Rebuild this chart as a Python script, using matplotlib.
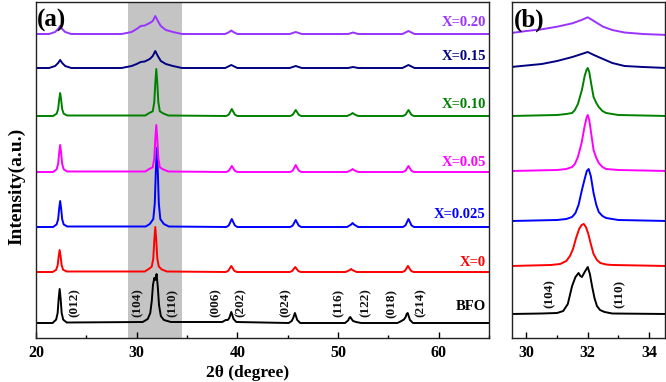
import matplotlib
matplotlib.use('Agg')
import matplotlib.pyplot as plt
from matplotlib.ticker import MultipleLocator

plt.rcParams['font.family'] = ['Liberation Serif', 'DejaVu Serif']

# ---------------- data ----------------
samples = ['BFO', 'X=0', 'X=0.025', 'X=0.05', 'X=0.10', 'X=0.15', 'X=0.20']
colors = ['#000000', '#ff0000', '#0000ff', '#ff00ff', '#008000', '#000080', '#9933ff']

# panel (a): (2theta, relative intensity)
bfo_a = [(20, 0), (21.65, 0), (22.0, 3.4), (22.15, 10), (22.25, 24), (22.35, 34), (22.45, 24), (22.55, 10),
         (22.7, 3.4), (23.05, 0.5),
         (30.6, 1), (31.1, 4), (31.35, 10), (31.5, 22), (31.62, 38), (31.75, 45), (31.85, 43), (31.98, 49),
         (32.1, 36), (32.22, 18), (32.4, 7), (32.7, 3), (33.4, 1),
         (38.5, 1), (38.85, 3), (39.05, 3), (39.2, 5), (39.3, 8), (39.4, 11), (39.5, 8), (39.62, 4), (39.9, 1),
         (45.1, 0), (45.4, 2), (45.55, 5), (45.65, 8), (45.72, 10), (45.82, 7), (45.95, 3), (46.25, 0),
         (50.7, 0), (51.0, 2.5), (51.12, 5), (51.22, 6), (51.35, 4), (51.5, 2), (51.8, 1), (52.3, 0),
         (55.9, 0), (56.3, 2), (56.55, 3.5), (56.72, 6), (56.82, 9), (56.92, 10), (57.02, 7), (57.15, 3),
         (57.45, 0), (65, 0)]
x0_a = [(20, 0), (21.65, 0), (22.0, 2.2), (22.15, 6.6), (22.25, 15.4), (22.35, 22), (22.45, 15.4), (22.55, 6.6),
        (22.7, 2.2), (23.05, 0.5),
        (30.8, 0.5), (31.2, 3), (31.5, 5.4), (31.65, 13.5), (31.75, 31.5), (31.85, 45), (31.95, 31.5),
        (32.05, 13.5), (32.2, 5.4), (32.5, 2.5), (33.0, 0.5),
        (38.85, 0), (39.1, 1.2), (39.25, 3.6), (39.4, 6), (39.55, 3.6), (39.7, 1.2), (39.95, 0),
        (45.2, 0), (45.45, 1), (45.6, 3), (45.75, 5), (45.9, 3), (46.05, 1), (46.3, 0),
        (50.75, 0), (51.15, 1.8), (51.3, 3), (51.45, 1.8), (51.85, 0),
        (56.4, 0), (56.65, 1.2), (56.8, 3.6), (56.95, 6), (57.1, 3.6), (57.25, 1.2), (57.5, 0), (65, 0)]
x025_a = [(20, 0), (21.7, 0), (22.05, 2.6), (22.2, 7.8), (22.3, 18.2), (22.4, 26), (22.5, 18.2), (22.6, 7.8),
          (22.75, 2.6), (23.1, 0.5),
          (30.9, 0.5), (31.3, 3), (31.65, 7.9), (31.8, 23.7), (31.9, 55), (32.0, 79), (32.1, 55), (32.2, 23.7),
          (32.35, 7.9), (32.7, 3), (33.2, 0.5),
          (38.9, 0), (39.15, 1.6), (39.3, 4.8), (39.45, 8), (39.6, 4.8), (39.75, 1.6), (40.0, 0),
          (45.25, 0), (45.5, 1.4), (45.65, 4.2), (45.8, 7), (45.95, 4.2), (46.1, 1.4), (46.35, 0),
          (50.9, 0), (51.3, 2.4), (51.45, 4), (51.6, 2.4), (52.0, 0),
          (56.45, 0), (56.7, 1.6), (56.85, 4.8), (57.0, 8), (57.15, 4.8), (57.3, 1.6), (57.55, 0), (65, 0)]
x05_a = [(20, 0), (21.7, 0), (22.05, 2.7), (22.2, 8.1), (22.3, 18.9), (22.4, 27), (22.5, 18.9), (22.6, 8.1),
         (22.75, 2.7), (23.1, 0.5),
         (30.85, 0.5), (31.25, 3), (31.6, 4.7), (31.75, 14.1), (31.85, 32.9), (31.95, 47), (32.05, 32.9),
         (32.15, 14.1), (32.3, 4.7), (32.65, 2.5), (33.15, 0.5),
         (38.9, 0), (39.15, 1.2), (39.3, 3.6), (39.45, 6), (39.6, 3.6), (39.75, 1.2), (40.0, 0),
         (45.25, 0), (45.5, 1.4), (45.65, 4.2), (45.8, 7), (45.95, 4.2), (46.1, 1.4), (46.35, 0),
         (50.9, 0), (51.3, 1.8), (51.45, 3), (51.6, 1.8), (52.0, 0),
         (56.45, 0), (56.7, 1.2), (56.85, 3.6), (57.0, 6), (57.15, 3.6), (57.3, 1.2), (57.55, 0), (65, 0)]
x10_a = [(20, 0), (21.7, 0), (22.05, 2.3), (22.2, 6.9), (22.3, 16.1), (22.4, 23), (22.5, 16.1), (22.6, 6.9),
         (22.75, 2.3), (23.1, 0.5),
         (30.85, 0.5), (31.25, 3), (31.6, 4.7), (31.75, 14.1), (31.85, 32.9), (31.95, 47), (32.05, 32.9),
         (32.15, 14.1), (32.3, 4.7), (32.65, 2.5), (33.15, 0.5),
         (38.9, 0), (39.15, 1.4), (39.3, 4.2), (39.45, 7), (39.6, 4.2), (39.75, 1.4), (40.0, 0),
         (45.25, 0), (45.5, 1.2), (45.65, 3.6), (45.8, 6), (45.95, 3.6), (46.1, 1.2), (46.35, 0),
         (50.9, 0), (51.3, 1.8), (51.45, 3), (51.6, 1.8), (52.0, 0),
         (56.45, 0), (56.7, 1.2), (56.85, 3.6), (57.0, 6), (57.15, 3.6), (57.3, 1.2), (57.55, 0), (65, 0)]
x15_a = [(20, 0), (21.3, 0), (21.9, 2), (22.2, 5), (22.4, 8), (22.6, 5), (22.9, 2), (23.5, 0),
         (28.5, 0), (29.5, 2), (30.0, 4), (30.4, 6), (30.8, 6.5), (31.3, 9), (31.6, 12), (31.85, 17),
         (32.1, 12), (32.4, 7), (32.9, 4), (33.6, 2), (34.5, 0), (38.8, 0), (39.2, 2), (39.4, 3),
         (39.6, 2), (40.0, 0), (45.2, 0), (45.8, 2), (46.4, 0), (51.0, 0), (51.5, 1), (52.0, 0),
         (56.4, 0), (56.8, 2), (57.0, 3), (57.2, 2), (57.6, 0), (65, 0)]
x20_a = [(20, 0), (21.3, 0), (21.9, 2), (22.2, 5), (22.4, 8), (22.6, 5), (22.9, 2), (23.5, 0),
         (28.5, 0), (29.5, 2), (30.0, 5), (30.4, 8), (30.8, 8.5), (31.3, 11), (31.6, 13), (31.85, 18),
         (32.1, 13), (32.4, 8), (32.9, 4), (33.6, 2), (34.5, 0), (38.8, 0), (39.2, 2), (39.4, 3.5),
         (39.6, 2), (40.0, 0), (45.2, 0), (45.8, 2), (46.4, 0), (51.0, 0), (51.5, 1.5), (52.0, 0),
         (56.4, 0), (56.8, 2), (57.0, 3), (57.2, 2), (57.6, 0), (65, 0)]

# panel (b): zoomed (104)/(110) region
bfo_b = [(29.5, 0), (30.5, 0.5), (31.0, 1), (31.2, 3), (31.35, 10), (31.49, 28), (31.6, 37), (31.7, 41),
         (31.76, 38), (31.81, 37), (31.9, 42), (32.0, 47), (32.07, 40), (32.14, 28), (32.22, 16), (32.3, 8),
         (32.4, 4), (32.55, 2), (32.8, 0.5), (34.6, 0)]
x0_b = [(29.5, 0), (30.8, 1), (31.1, 2), (31.3, 5), (31.42, 10), (31.52, 17), (31.62, 28), (31.72, 37),
        (31.8, 41), (31.87, 42), (31.94, 39), (32.02, 32), (32.1, 22), (32.19, 12), (32.3, 6), (32.41, 3),
        (32.6, 1.5), (32.8, 1), (34.6, 0)]
x025_b = [(29.5, 0), (31.0, 1), (31.3, 2), (31.49, 4), (31.6, 8), (31.7, 16), (31.81, 31), (31.9, 42),
          (31.97, 50), (32.03, 52), (32.1, 45), (32.19, 28), (32.28, 16), (32.36, 9), (32.48, 5), (32.6, 3),
          (33.0, 1), (34.6, 0)]
x05_b = [(29.5, 0), (31.0, 1), (31.3, 2), (31.49, 4), (31.58, 7), (31.68, 14), (31.8, 28), (31.9, 45),
         (31.96, 53), (32.0, 56), (32.05, 51), (32.12, 36), (32.19, 21), (32.28, 13), (32.36, 8), (32.48, 4),
         (32.6, 2), (33.0, 1), (34.6, 0)]
x10_b = [(29.5, 0), (31.0, 1), (31.3, 2), (31.49, 3), (31.58, 6), (31.68, 12), (31.81, 26), (31.9, 40),
         (31.96, 46), (32.0, 48), (32.05, 44), (32.12, 31), (32.19, 19), (32.28, 13), (32.36, 9), (32.48, 5),
         (32.6, 3), (33.0, 1), (34.6, 0)]
x15_b = [(29.5, 1), (30.0, 2.5), (30.5, 4), (31.0, 7), (31.5, 11), (31.8, 14), (32.0, 16), (32.2, 13),
         (32.5, 9), (32.8, 5), (33.2, 2), (33.8, 1), (34.6, 0)]
x20_b = [(29.5, 2), (30.0, 4), (30.5, 5.7), (31.0, 8.3), (31.5, 11.7), (31.8, 15), (32.0, 17.7), (32.2, 14),
         (32.5, 8.3), (32.8, 5), (33.2, 2.5), (33.8, 1), (34.6, 0)]

series_a = [bfo_a, x0_a, x025_a, x05_a, x10_a, x15_a, x20_a]
series_b = [bfo_b, x0_b, x025_b, x05_b, x10_b, x15_b, x20_b]

# vertical stacking offsets
offsets_a = [15, 66, 111, 166, 222, 270, 304]
offsets_b = [24, 72, 117, 167, 222, 270, 303]
label_y = [31, 75, 123, 176, 233, 281, 315]

# reflection labels
hkl_a = ['(012)', '(104)', '(110)', '(006)', '(202)', '(024)', '(116)', '(122)', '(018)', '(214)']
hkl_a_x = [23.85, 30.1, 33.6, 37.8, 40.35, 44.8, 50.1, 52.7, 55.3, 58.2]
hkl_b = ['(104)', '(110)']
hkl_b_x = [30.76, 33.03]

# ---------------- figure ----------------
W, H = 666, 382
fig = plt.figure(figsize=(W / 100, H / 100), dpi=100)
ax_a = fig.add_axes([36 / W, 44 / H, 453 / W, 336 / H])
ax_b = fig.add_axes([512 / W, 44 / H, 153 / W, 336 / H])

ax_a.axvspan(29.1, 34.55, color='#c4c4c4', lw=0, zorder=0)

for pts, off, col in zip(series_a, offsets_a, colors):
    xs = [p[0] for p in pts]
    ys = [p[1] + off for p in pts]
    ax_a.plot(xs, ys, color=col, lw=1.4, zorder=2, solid_joinstyle='round')
for pts, off, col in zip(series_b, offsets_b, colors):
    xs = [p[0] for p in pts]
    ys = [p[1] + off for p in pts]
    ax_b.plot(xs, ys, color=col, lw=1.4, zorder=2, solid_joinstyle='round')

for name, ly, col in zip(samples, label_y, colors):
    ax_a.text(64.7, ly, name, color=col, fontsize=10.5, fontweight='bold', ha='right', va='center')

for t, x in zip(hkl_a, hkl_a_x):
    ax_a.text(x, 35, t, rotation=90, fontsize=9.5, fontweight='bold', ha='center', va='center',
              color='#111111')
for t, x in zip(hkl_b, hkl_b_x):
    ax_b.text(x, 44, t, rotation=90, fontsize=9.5, fontweight='bold', ha='center', va='center',
              color='#111111')

ax_a.set_xlim(20, 65)
ax_b.set_xlim(29.53, 34.52)
ax_a.xaxis.set_major_locator(MultipleLocator(10))
ax_a.xaxis.set_minor_locator(MultipleLocator(5))
ax_b.xaxis.set_major_locator(MultipleLocator(2))
ax_b.xaxis.set_minor_locator(MultipleLocator(1))
for ax in (ax_a, ax_b):
    ax.set_ylim(0, 336)
    ax.set_yticks([])
    ax.tick_params(axis='x', which='both', direction='in', labelsize=11.5, pad=5)
    ax.tick_params(axis='x', which='major', length=4, width=1)
    ax.tick_params(axis='x', which='minor', length=2.5, width=1)
    for lab in ax.get_xticklabels():
        lab.set_fontweight('bold')
    for s in ax.spines.values():
        s.set_linewidth(1.0)
        s.set_color('#222222')

ax_a.set_xlabel('2θ (degree)', fontsize=12.5, fontweight='bold', va='center')
ax_a.xaxis.set_label_coords(0.468, -0.103)
ax_a.set_ylabel('Intensity(a.u.)', fontsize=14, fontweight='bold', va='center')
ax_a.yaxis.set_label_coords(-0.042, 0.45)

ax_a.text(0.003, 0.945, '(a)', transform=ax_a.transAxes, fontsize=18, fontweight='bold',
          ha='left', va='center')
ax_b.text(0.01, 0.945, '(b)', transform=ax_b.transAxes, fontsize=18, fontweight='bold',
          ha='left', va='center')

fig.savefig('out.png', dpi=100)
